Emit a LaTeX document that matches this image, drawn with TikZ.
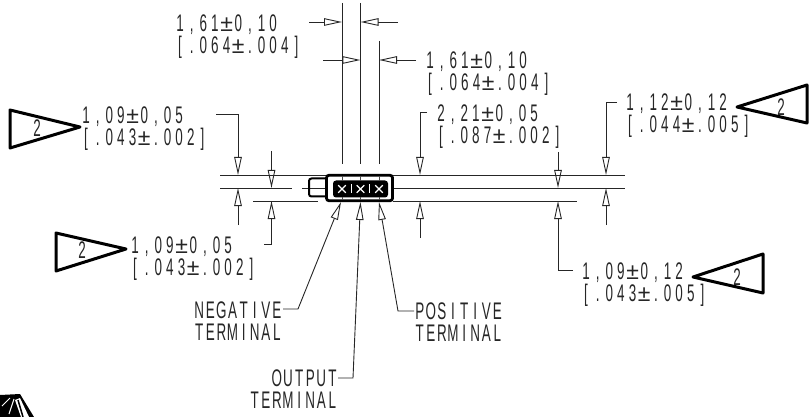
\documentclass[tikz,border=0pt]{standalone}
\usepackage{fontspec}
\setmainfont{Liberation Sans}[FakeStretch=0.56]
\newfontfamily\pmfont{Liberation Sans}
\usetikzlibrary{arrows.meta}
\newlength{\cadpitch}
\setlength{\cadpitch}{11.65pt}
\newcommand{\bigpm}{{\pmfont\fontsize{23pt}{22pt}\selectfont ±}}
\makeatletter
\newcommand{\cad}[1]{\rule{0pt}{15pt}\@tfor\cad@c:=#1\do{\makebox[\cadpitch]{\cad@c}}}
\makeatother
\tikzset{
  x=1pt,y=-1pt,
  ink/.style={draw=black!85,line width=.9pt},
  dim/.style={ink,-{Triangle[open,length=18pt,width=7.5pt,line width=.9pt]}},
  lab/.style={anchor=north west,inner sep=0pt,align=left,text=black!85,font=\fontsize{24pt}{22pt}\selectfont},
  wordlab/.style={lab,execute at begin node={\setlength{\cadpitch}{11.1pt}}},
  flag/.style={draw=black,line width=3pt,line join=round},
  flagnum/.style={inner sep=0pt,text=black!85,font=\fontsize{24pt}{22pt}\selectfont},
  body/.style={draw=black,line width=2.8pt,fill=white,rounded corners=2.5pt},
}
\begin{document}
\begin{tikzpicture}
\useasboundingbox (0,0) rectangle (809,417);
% reference lines
\coordinate (t1) at (220,175); \coordinate (t2) at (625,175);
\coordinate (m1) at (220,188); \coordinate (m2) at (292,188);
\coordinate (m3) at (302,188); \coordinate (m4) at (625,188);
\coordinate (b1) at (253,201); \coordinate (b2) at (318,201);
\coordinate (b3) at (393,201); \coordinate (b4) at (577,201);
\draw[ink] (t1) -- (t2);
\draw[ink] (m1) -- (m2);
\draw[ink] (m3) -- (m4);
\draw[ink] (b1) -- (b2);
\draw[ink] (b3) -- (b4);
% extension lines
\coordinate (e1a) at (342,3);  \coordinate (e1b) at (342,164);
\coordinate (e2a) at (360.5,3);  \coordinate (e2b) at (360.5,164);
\coordinate (e3a) at (379,41); \coordinate (e3b) at (379,164);
\draw[ink] (e1a) -- (e1b);
\draw[ink] (e2a) -- (e2b);
\draw[ink] (e3a) -- (e3b);
% horizontal dimensions
\coordinate (h1) at (309,22); \coordinate (h1t) at (342,22);
\coordinate (h2) at (398,22); \coordinate (h2t) at (360.5,22);
\coordinate (h3) at (323,60); \coordinate (h3t) at (360.5,60);
\coordinate (h4) at (416,60); \coordinate (h4t) at (379,60);
\draw[dim] (h1) -- (h1t);
\draw[dim] (h2) -- (h2t);
\draw[dim] (h3) -- (h3t);
\draw[dim] (h4) -- (h4t);
% vertical dimensions
\coordinate (a0) at (216,114); \coordinate (a1) at (238,114); \coordinate (a1t) at (238,175);
\coordinate (a2) at (238,225); \coordinate (a2t) at (238,188);
\coordinate (c1) at (271.5,151); \coordinate (c1t) at (271.5,188);
\coordinate (c0) at (264,244); \coordinate (c2) at (271.5,244); \coordinate (c2t) at (271.5,201);
\coordinate (d0) at (427,112); \coordinate (d1) at (420,112); \coordinate (d1t) at (420,175);
\coordinate (d2) at (420,238); \coordinate (d2t) at (420,201);
\coordinate (f1) at (558,152); \coordinate (f1t) at (558,188);
\coordinate (f0) at (573,270); \coordinate (f2) at (558,270); \coordinate (f2t) at (558,201);
\coordinate (g0) at (617,102); \coordinate (g1) at (606,102); \coordinate (g1t) at (606,175);
\coordinate (g2) at (606,225); \coordinate (g2t) at (606,188);
\draw[dim] (a0) -- (a1) -- (a1t);
\draw[dim] (a2) -- (a2t);
\draw[dim] (c1) -- (c1t);
\draw[dim] (c0) -- (c2) -- (c2t);
\draw[dim] (d0) -- (d1) -- (d1t);
\draw[dim] (d2) -- (d2t);
\draw[dim] (f1) -- (f1t);
\draw[dim] (f0) -- (f2) -- (f2t);
\draw[dim] (g0) -- (g1) -- (g1t);
\draw[dim] (g2) -- (g2t);
% part
\draw[draw=black,line width=2pt,rounded corners=2.5pt] (326,178.5) -- (309,178.5) -- (309,196.5) -- (326,196.5);
\node[body,minimum width=66pt,minimum height=25.5pt,inner sep=0pt] (part) at (359.5,188) {};
\node[fill=black,rounded corners=3pt,minimum width=55pt,minimum height=17pt,inner sep=0pt] (cells) at (360.5,189) {};
\foreach \cx in {342,360.5,379}{
  \draw[white,line width=1.1pt] (\cx-3.8,185.2) -- (\cx+3.8,192.8) (\cx-3.8,192.8) -- (\cx+3.8,185.2);
  \draw[black!70,line width=.8pt] (\cx,176.5) -- (\cx,181) (\cx,197) -- (\cx,200);
}
\foreach \cx in {351.3,369.8}{
  \draw[white,line width=.8pt] (\cx,184.5) -- (\cx,193.5);
}
% leader arrows
\coordinate (n0) at (283,309); \coordinate (n1) at (298,309); \coordinate (n2) at (341,202);
\coordinate (o0) at (338,378); \coordinate (o1) at (353,378); \coordinate (o2) at (360.5,202);
\coordinate (p0) at (414,311); \coordinate (p1) at (398,311); \coordinate (p2) at (379,202);
\draw[dim] (n0) -- (n1) -- (n2);
\draw[dim] (o0) -- (o1) -- (o2);
\draw[dim] (p0) -- (p1) -- (p2);
% labels
\node[lab] (l1) at (174,15) {\cad{1,61\bigpm0,10}\\\cad{[.064\bigpm.004]}};
\node[lab] (l2) at (424,52) {\cad{1,61\bigpm0,10}\\\cad{[.064\bigpm.004]}};
\node[lab] (l3) at (435,105) {\cad{2,21\bigpm0,05}\\\cad{[.087\bigpm.002]}};
\node[lab] (l4) at (80,107) {\cad{1,09\bigpm0,05}\\\cad{[.043\bigpm.002]}};
\node[lab] (l5) at (129,237) {\cad{1,09\bigpm0,05}\\\cad{[.043\bigpm.002]}};
\node[lab] (l6) at (624,94) {\cad{1,12\bigpm0,12}\\\cad{[.044\bigpm.005]}};
\node[lab] (l7) at (580,263) {\cad{1,09\bigpm0,12}\\\cad{[.043\bigpm.005]}};
\node[wordlab] (l8) at (193.5,302) {\cad{NEGATIVE}\\\cad{TERMINAL}};
\node[wordlab] (l9) at (414,303) {\cad{POSITIVE}\\\cad{TERMINAL}};
\node[wordlab,align=right] (l10) at (249,370) {\cad{OUTPUT}\\\cad{TERMINAL}};
% flags
\draw[flag] (10,110) -- (80,127) -- (10,148) -- cycle;
\node[flagnum] (fa) at (37,128) {2};
\draw[flag] (56,233) -- (126,249) -- (56,271) -- cycle;
\node[flagnum] (fb) at (82,250) {2};
\draw[flag] (807,85) -- (737,107) -- (807,123) -- cycle;
\node[flagnum] (fc) at (781,107) {2};
\draw[flag] (763,254) -- (693,277) -- (763,293) -- cycle;
\node[flagnum] (fd) at (737,277) {2};
% cropped fragment, bottom left
\begin{scope}
\clip (0,385) rectangle (45,417);
\fill[black] (0,395) -- (20,394) -- (34,417) -- (0,417) -- cycle;
\fill[white] (20,398) -- (29,417) -- (21,417) -- (15,400) -- cycle;
\draw[white,line width=1pt] (14,399) -- (9,414);
\draw[white,line width=1pt] (10,398) -- (2,406);
\draw[black,line width=1.5pt] (18,400) -- (23,417);
\end{scope}
\end{tikzpicture}
\end{document}
